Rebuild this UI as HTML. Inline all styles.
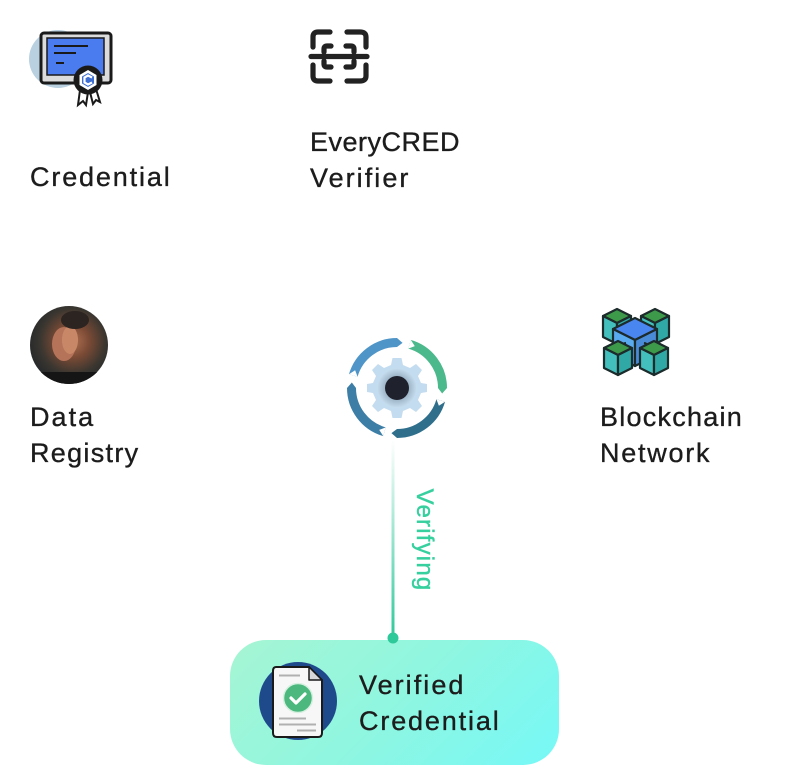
<!DOCTYPE html>
<html><head><meta charset="utf-8">
<style>
html,body{margin:0;padding:0;background:#fff;}
body{width:795px;height:765px;position:relative;overflow:hidden;font-family:"Liberation Sans",sans-serif;}
.t{position:absolute;font-size:27px;line-height:36px;color:#1c1c1c;letter-spacing:1.05px;white-space:nowrap;-webkit-text-stroke:0.35px #1c1c1c;}
.t span{display:block;}
.box{position:absolute;left:230px;top:640px;width:329px;height:125px;border-radius:36px;background:linear-gradient(135deg,#a6f5d3 0%,#8ff6e0 50%,#76f8f7 100%);}
svg{position:absolute;left:0;top:0;}
.vy{position:absolute;left:424px;top:540px;transform:translate(-50%,-50%) rotate(90deg);font-size:24px;color:#36cf9e;letter-spacing:1.2px;white-space:nowrap;line-height:24px;-webkit-text-stroke:0.4px #36cf9e;}
</style></head><body>
<div class="box"></div>
<svg width="795" height="765" viewBox="0 0 795 765">
<defs>
<linearGradient id="ln" x1="0" y1="0" x2="0" y2="1">
<stop offset="0" stop-color="#ffffff"/><stop offset="1" stop-color="#2ec99a"/>
</linearGradient>
<radialGradient id="gh" cx="0.5" cy="0.5" r="0.5">
<stop offset="0.35" stop-color="#5d6a78"/><stop offset="0.6" stop-color="#9fb6c8"/><stop offset="1" stop-color="#c6def0"/>
</radialGradient>
<radialGradient id="av" cx="0.55" cy="0.45" r="0.6">
<stop offset="0" stop-color="#b07050"/><stop offset="0.35" stop-color="#7a4a35"/><stop offset="0.7" stop-color="#3a3630"/><stop offset="1" stop-color="#23272a"/>
</radialGradient>
<clipPath id="avc"><circle cx="69" cy="345" r="39"/></clipPath>
</defs>

<!-- Credential icon -->
<circle cx="58" cy="59" r="29" fill="#b8d0e0"/>
<rect x="41" y="33" width="70" height="50" rx="3" fill="#dcdcdc" stroke="#1a1a1a" stroke-width="3"/>
<rect x="47" y="38" width="57" height="37" fill="#4a7cf0" stroke="#1a1a1a" stroke-width="1.5"/>
<line x1="54" y1="46" x2="88" y2="46" stroke="#1a1a1a" stroke-width="2"/>
<line x1="54" y1="53" x2="76" y2="53" stroke="#1a1a1a" stroke-width="2"/>
<line x1="56" y1="63" x2="64" y2="63" stroke="#1a1a1a" stroke-width="2"/>
<path d="M80 90 L78 105 L83 101 L86 105 L88 92 Z" fill="#fff" stroke="#1a1a1a" stroke-width="2"/>
<path d="M90 92 L93 104 L96 100 L100 102 L96 89 Z" fill="#fff" stroke="#1a1a1a" stroke-width="2"/>
<circle cx="88" cy="80" r="14.5" fill="#1a1a1a"/>
<path d="M88 70 L96.5 75 L96.5 85 L88 90 L79.5 85 L79.5 75 Z" fill="#fff"/>
<path d="M88 73 L94 76.5 L94 83.5 L88 87 L82 83.5 L82 76.5 Z" fill="#3f6fd0"/>
<path d="M92 77.5 L88 75.5 L84.5 77.5 L84.5 82.5 L88 84.5 L92 82.5" fill="none" stroke="#fff" stroke-width="2.2"/>

<!-- Scanner icon -->
<g fill="none" stroke="#222" stroke-width="5.2" stroke-linecap="round" stroke-linejoin="round">
<path d="M313 47 V37 Q313 32 318 32 H330"/>
<path d="M347 32 H360 Q366 32 366 37 V47"/>
<path d="M313 65 V76 Q313 81 318 81 H330"/>
<path d="M347 81 H360 Q366 81 366 76 V65"/>
<path d="M324 52 V49 Q324 46 327 46 H331"/>
<path d="M346 46 H351 Q354 46 354 49 V52"/>
<path d="M324 61 V64 Q324 67 327 67 H331"/>
<path d="M346 67 H351 Q354 67 354 64 V61"/>
<line x1="311" y1="56.5" x2="367" y2="56.5"/>
</g>

<!-- Avatar -->
<g clip-path="url(#avc)">
<rect x="30" y="306" width="78" height="78" fill="url(#av)"/>
<ellipse cx="64" cy="344" rx="12" ry="17" fill="#b5735a"/>
<ellipse cx="70" cy="340" rx="8" ry="14" fill="#c88868"/>
<ellipse cx="75" cy="320" rx="14" ry="9" fill="#2b2420"/>
<rect x="30" y="372" width="78" height="14" fill="#151515"/>
</g>

<!-- Gear cycle -->
<g fill="none" stroke-width="9" stroke-linecap="butt">
<path d="M353.26 375.46 A45.5 45.5 0 0 1 397 342.5" stroke="#4f95c8"/>
<path d="M409.54 344.26 A45.5 45.5 0 0 1 442.5 388" stroke="#4cb98c"/>
<path d="M440.74 400.54 A45.5 45.5 0 0 1 397 433.5" stroke="#2f6f8c"/>
<path d="M384.46 431.74 A45.5 45.5 0 0 1 351.5 388" stroke="#3d7ea6"/>
</g>
<path d="M397 347 L397 338 L402.55 342.84 Z" fill="#4f95c8"/>
<path d="M438 388 L447 388 L442.16 393.55 Z" fill="#4cb98c"/>
<path d="M397 429 L397 438 L391.45 433.16 Z" fill="#2f6f8c"/>
<path d="M356 388 L347 388 L351.84 382.45 Z" fill="#3d7ea6"/>
<g fill="#fff">
<path d="M357.59 376.70 L348.93 374.22 L355.12 370.22 Z"/>
<path d="M408.30 348.59 L410.78 339.93 L414.78 346.12 Z"/>
<path d="M436.41 399.30 L445.07 401.78 L438.88 405.78 Z"/>
<path d="M385.70 427.41 L383.22 436.07 L379.22 429.88 Z"/>
</g>
<g transform="translate(397,388)">
<path d="M-4.5 -30 L4.5 -30 L6 -23 L13 -20 L19 -24 L25 -18 L21 -12 L24 -5 L30 -4 L30 4 L24 5 L21 12 L25 18 L19 24 L13 20 L6 23 L4.5 30 L-4.5 30 L-6 23 L-13 20 L-19 24 L-25 18 L-21 12 L-24 5 L-30 4 L-30 -4 L-24 -5 L-21 -12 L-25 -18 L-19 -24 L-13 -20 L-6 -23 Z" fill="#c4dcef"/>
<circle r="20" fill="url(#gh)"/>
<circle r="12" fill="#1f222d"/>
</g>

<!-- Blockchain icon -->
<g stroke="#1c2b2b" stroke-width="2.2" stroke-linejoin="round">
<path d="M617 309 L631 316 L617 323 L603 316 Z" fill="#3d9a4a"/>
<path d="M603 316 L617 323 L617 344 L603 337 Z" fill="#43c0bd"/>
<path d="M617 323 L631 316 L631 337 L617 344 Z" fill="#30a9a6"/>
<path d="M655 309 L669 316 L655 323 L641 316 Z" fill="#3d9a4a"/>
<path d="M641 316 L655 323 L655 344 L641 337 Z" fill="#43c0bd"/>
<path d="M655 323 L669 316 L669 337 L655 344 Z" fill="#30a9a6"/>
<path d="M635 318 L657 329 L635 340 L613 329 Z" fill="#4a86ef"/>
<path d="M613 329 L635 340 L635 366 L613 355 Z" fill="#5aaaf0"/>
<path d="M635 340 L657 329 L657 355 L635 366 Z" fill="#4a8bd8"/>
<path d="M621 350 Q621 344 626 343" fill="none"/>
<path d="M649 350 Q649 344 644 343" fill="none"/>
<path d="M618 341 L632 348 L618 355 L604 348 Z" fill="#3d9a4a"/>
<path d="M604 348 L618 355 L618 375 L604 368 Z" fill="#43c0bd"/>
<path d="M618 355 L632 348 L632 368 L618 375 Z" fill="#30a9a6"/>
<path d="M654 341 L668 348 L654 355 L640 348 Z" fill="#3d9a4a"/>
<path d="M640 348 L654 355 L654 375 L640 368 Z" fill="#43c0bd"/>
<path d="M654 355 L668 348 L668 368 L654 375 Z" fill="#30a9a6"/>
</g>

<!-- connector -->
<rect x="391.5" y="440" width="3" height="198" fill="url(#ln)"/>
<circle cx="393" cy="638" r="5.5" fill="#2ec99a"/>

<!-- Verified credential icon -->
<circle cx="298" cy="701" r="39" fill="#1e4a8c"/>
<path d="M276 667 H309 L322 680 V733 Q322 737 318 737 H277 Q273 737 273 733 V671 Q273 667 276 667 Z" fill="#f7f7f7" stroke="#1a1a1a" stroke-width="2"/>
<path d="M309 667 V680 H322 Z" fill="#d8d8d8" stroke="#1a1a1a" stroke-width="1.5" stroke-linejoin="round"/>
<line x1="279" y1="675.5" x2="300" y2="675.5" stroke="#b0b0b0" stroke-width="2"/>
<circle cx="298" cy="698" r="14.5" fill="#4cb87e" stroke="#d6f0e0" stroke-width="1.5"/>
<path d="M291 698 L296 703 L305 694" fill="none" stroke="#fff" stroke-width="3.2" stroke-linecap="round" stroke-linejoin="round"/>
<line x1="279" y1="718.5" x2="306" y2="718.5" stroke="#b0b0b0" stroke-width="2"/>
<line x1="279" y1="724.5" x2="316" y2="724.5" stroke="#b0b0b0" stroke-width="2"/>
<line x1="297" y1="730.5" x2="316" y2="730.5" stroke="#b0b0b0" stroke-width="2"/>
</svg>

<div class="t" style="left:30px;top:159px;"><span style="letter-spacing:1.85px">Credential</span></div>
<div class="t" style="left:310px;top:124px;"><span style="letter-spacing:0.5px">EveryCRED</span><span style="letter-spacing:2.05px">Verifier</span></div>
<div class="t" style="left:30px;top:399px;"><span style="letter-spacing:2.05px">Data</span><span style="letter-spacing:1.3px">Registry</span></div>
<div class="t" style="left:600px;top:399px;"><span style="letter-spacing:1.25px">Blockchain</span><span style="letter-spacing:1.75px">Network</span></div>
<div class="t" style="left:359px;top:667px;"><span style="letter-spacing:2.05px">Verified</span><span style="letter-spacing:1.85px">Credential</span></div>
<div class="vy">Verifying</div>
</body></html>
